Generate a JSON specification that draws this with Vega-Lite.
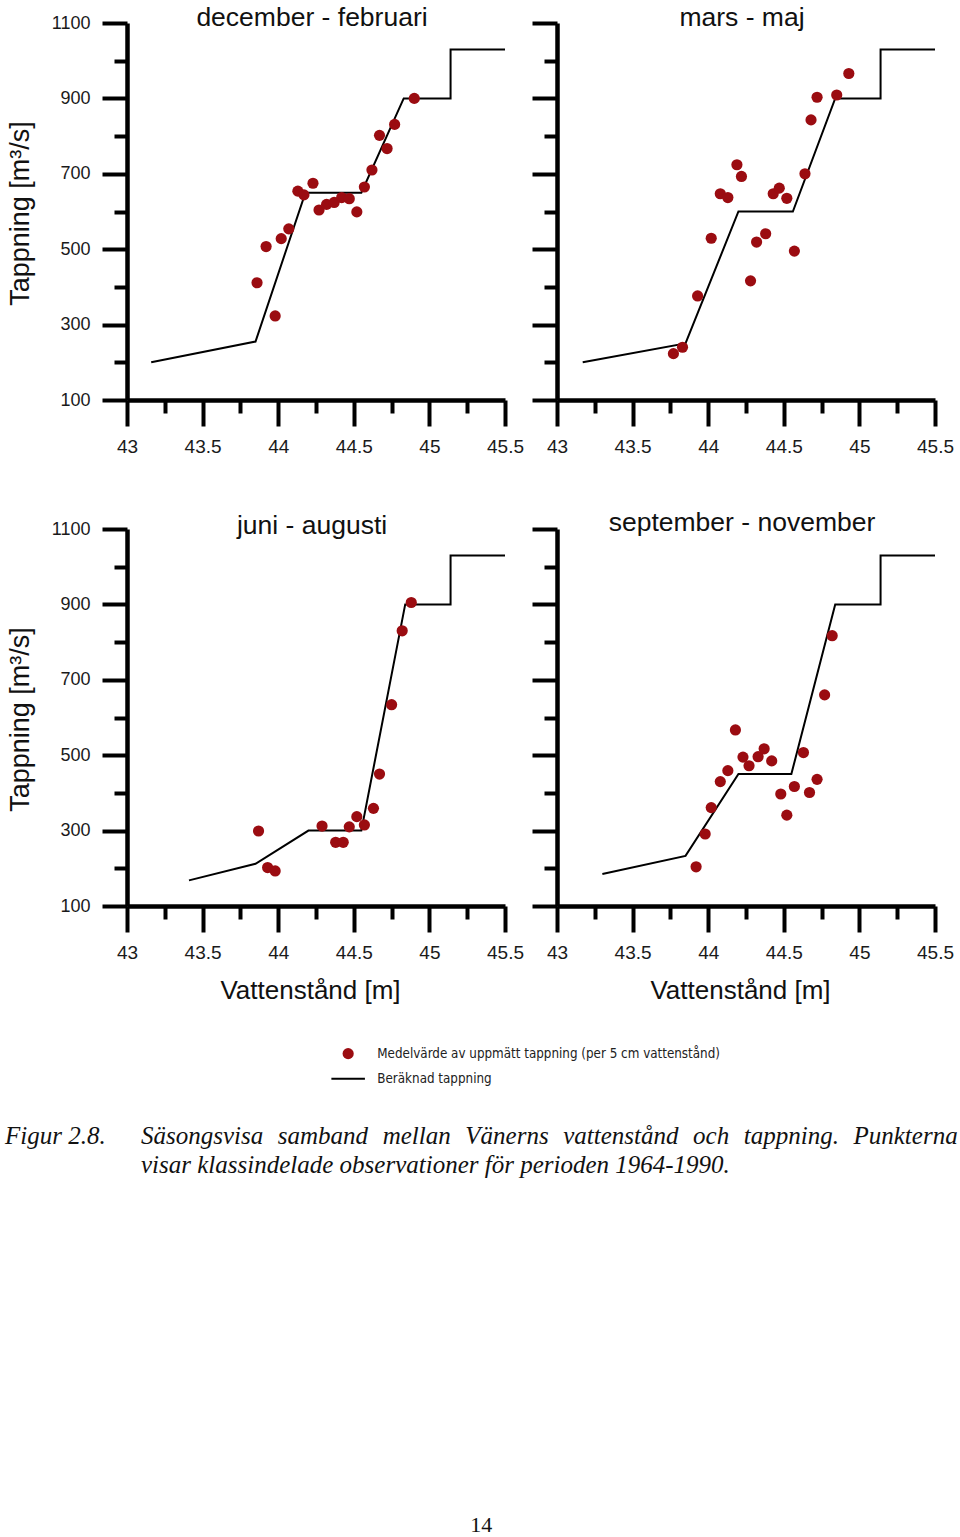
{
  "$schema": "https://vega.github.io/schema/vega-lite/v6.json",
  "padding": {"left": 5, "top": 4, "right": 0, "bottom": 0},
  "background": "white",
  "title": {"text": "14", "orient": "bottom", "anchor": "middle", "frame": "bounds", "dx": 0, "offset": 279, "baseline": "alphabetic", "font": "Liberation Serif", "fontSize": 22, "fontWeight": "normal", "color": "#111111"},
  "datasets": {
    "matt": [
      {"period": "dec-feb", "vattenstand": 43.86, "tappning": 411},
      {"period": "dec-feb", "vattenstand": 43.92, "tappning": 507},
      {"period": "dec-feb", "vattenstand": 43.98, "tappning": 323},
      {"period": "dec-feb", "vattenstand": 44.02, "tappning": 528},
      {"period": "dec-feb", "vattenstand": 44.07, "tappning": 554},
      {"period": "dec-feb", "vattenstand": 44.13, "tappning": 654},
      {"period": "dec-feb", "vattenstand": 44.17, "tappning": 644},
      {"period": "dec-feb", "vattenstand": 44.23, "tappning": 675},
      {"period": "dec-feb", "vattenstand": 44.27, "tappning": 604},
      {"period": "dec-feb", "vattenstand": 44.32, "tappning": 619},
      {"period": "dec-feb", "vattenstand": 44.37, "tappning": 624},
      {"period": "dec-feb", "vattenstand": 44.42, "tappning": 637},
      {"period": "dec-feb", "vattenstand": 44.47, "tappning": 634},
      {"period": "dec-feb", "vattenstand": 44.52, "tappning": 599},
      {"period": "dec-feb", "vattenstand": 44.57, "tappning": 665},
      {"period": "dec-feb", "vattenstand": 44.62, "tappning": 710},
      {"period": "dec-feb", "vattenstand": 44.67, "tappning": 802},
      {"period": "dec-feb", "vattenstand": 44.72, "tappning": 767},
      {"period": "dec-feb", "vattenstand": 44.77, "tappning": 831},
      {"period": "dec-feb", "vattenstand": 44.90, "tappning": 900},
      {"period": "mar-maj", "vattenstand": 43.77, "tappning": 223},
      {"period": "mar-maj", "vattenstand": 43.83, "tappning": 240},
      {"period": "mar-maj", "vattenstand": 43.93, "tappning": 376},
      {"period": "mar-maj", "vattenstand": 44.02, "tappning": 529},
      {"period": "mar-maj", "vattenstand": 44.08, "tappning": 647},
      {"period": "mar-maj", "vattenstand": 44.13, "tappning": 637},
      {"period": "mar-maj", "vattenstand": 44.19, "tappning": 724},
      {"period": "mar-maj", "vattenstand": 44.22, "tappning": 693},
      {"period": "mar-maj", "vattenstand": 44.28, "tappning": 416},
      {"period": "mar-maj", "vattenstand": 44.32, "tappning": 519},
      {"period": "mar-maj", "vattenstand": 44.38, "tappning": 541},
      {"period": "mar-maj", "vattenstand": 44.43, "tappning": 647},
      {"period": "mar-maj", "vattenstand": 44.47, "tappning": 662},
      {"period": "mar-maj", "vattenstand": 44.52, "tappning": 635},
      {"period": "mar-maj", "vattenstand": 44.57, "tappning": 495},
      {"period": "mar-maj", "vattenstand": 44.64, "tappning": 700},
      {"period": "mar-maj", "vattenstand": 44.68, "tappning": 843},
      {"period": "mar-maj", "vattenstand": 44.72, "tappning": 903},
      {"period": "mar-maj", "vattenstand": 44.85, "tappning": 909},
      {"period": "mar-maj", "vattenstand": 44.93, "tappning": 966},
      {"period": "jun-aug", "vattenstand": 43.87, "tappning": 299},
      {"period": "jun-aug", "vattenstand": 43.93, "tappning": 202},
      {"period": "jun-aug", "vattenstand": 43.98, "tappning": 193},
      {"period": "jun-aug", "vattenstand": 44.29, "tappning": 312},
      {"period": "jun-aug", "vattenstand": 44.38, "tappning": 269},
      {"period": "jun-aug", "vattenstand": 44.43, "tappning": 269},
      {"period": "jun-aug", "vattenstand": 44.47, "tappning": 310},
      {"period": "jun-aug", "vattenstand": 44.52, "tappning": 337},
      {"period": "jun-aug", "vattenstand": 44.57, "tappning": 315},
      {"period": "jun-aug", "vattenstand": 44.63, "tappning": 359},
      {"period": "jun-aug", "vattenstand": 44.67, "tappning": 450},
      {"period": "jun-aug", "vattenstand": 44.75, "tappning": 634},
      {"period": "jun-aug", "vattenstand": 44.82, "tappning": 830},
      {"period": "jun-aug", "vattenstand": 44.88, "tappning": 905},
      {"period": "sep-nov", "vattenstand": 43.92, "tappning": 204},
      {"period": "sep-nov", "vattenstand": 43.98, "tappning": 291},
      {"period": "sep-nov", "vattenstand": 44.02, "tappning": 361},
      {"period": "sep-nov", "vattenstand": 44.08, "tappning": 430},
      {"period": "sep-nov", "vattenstand": 44.13, "tappning": 459},
      {"period": "sep-nov", "vattenstand": 44.18, "tappning": 567},
      {"period": "sep-nov", "vattenstand": 44.23, "tappning": 495},
      {"period": "sep-nov", "vattenstand": 44.27, "tappning": 472},
      {"period": "sep-nov", "vattenstand": 44.33, "tappning": 496},
      {"period": "sep-nov", "vattenstand": 44.37, "tappning": 517},
      {"period": "sep-nov", "vattenstand": 44.42, "tappning": 485},
      {"period": "sep-nov", "vattenstand": 44.48, "tappning": 397},
      {"period": "sep-nov", "vattenstand": 44.52, "tappning": 341},
      {"period": "sep-nov", "vattenstand": 44.57, "tappning": 417},
      {"period": "sep-nov", "vattenstand": 44.63, "tappning": 507},
      {"period": "sep-nov", "vattenstand": 44.67, "tappning": 401},
      {"period": "sep-nov", "vattenstand": 44.72, "tappning": 436},
      {"period": "sep-nov", "vattenstand": 44.77, "tappning": 660},
      {"period": "sep-nov", "vattenstand": 44.82, "tappning": 817}
    ],
    "beraknad": [
      {"period": "dec-feb", "nr": 1, "vattenstand": 43.16, "tappning": 200},
      {"period": "dec-feb", "nr": 2, "vattenstand": 43.85, "tappning": 255},
      {"period": "dec-feb", "nr": 3, "vattenstand": 44.18, "tappning": 650},
      {"period": "dec-feb", "nr": 4, "vattenstand": 44.55, "tappning": 650},
      {"period": "dec-feb", "nr": 5, "vattenstand": 44.83, "tappning": 900},
      {"period": "dec-feb", "nr": 6, "vattenstand": 45.14, "tappning": 900},
      {"period": "dec-feb", "nr": 7, "vattenstand": 45.14, "tappning": 1030},
      {"period": "dec-feb", "nr": 8, "vattenstand": 45.5, "tappning": 1030},
      {"period": "mar-maj", "nr": 1, "vattenstand": 43.17, "tappning": 200},
      {"period": "mar-maj", "nr": 2, "vattenstand": 43.85, "tappning": 250},
      {"period": "mar-maj", "nr": 3, "vattenstand": 44.2, "tappning": 600},
      {"period": "mar-maj", "nr": 4, "vattenstand": 44.56, "tappning": 600},
      {"period": "mar-maj", "nr": 5, "vattenstand": 44.84, "tappning": 900},
      {"period": "mar-maj", "nr": 6, "vattenstand": 45.14, "tappning": 900},
      {"period": "mar-maj", "nr": 7, "vattenstand": 45.14, "tappning": 1030},
      {"period": "mar-maj", "nr": 8, "vattenstand": 45.5, "tappning": 1030},
      {"period": "jun-aug", "nr": 1, "vattenstand": 43.41, "tappning": 168},
      {"period": "jun-aug", "nr": 2, "vattenstand": 43.85, "tappning": 212},
      {"period": "jun-aug", "nr": 3, "vattenstand": 44.2, "tappning": 300},
      {"period": "jun-aug", "nr": 4, "vattenstand": 44.55, "tappning": 300},
      {"period": "jun-aug", "nr": 5, "vattenstand": 44.84, "tappning": 900},
      {"period": "jun-aug", "nr": 6, "vattenstand": 45.14, "tappning": 900},
      {"period": "jun-aug", "nr": 7, "vattenstand": 45.14, "tappning": 1030},
      {"period": "jun-aug", "nr": 8, "vattenstand": 45.5, "tappning": 1030},
      {"period": "sep-nov", "nr": 1, "vattenstand": 43.3, "tappning": 185},
      {"period": "sep-nov", "nr": 2, "vattenstand": 43.85, "tappning": 233},
      {"period": "sep-nov", "nr": 3, "vattenstand": 44.2, "tappning": 450},
      {"period": "sep-nov", "nr": 4, "vattenstand": 44.55, "tappning": 450},
      {"period": "sep-nov", "nr": 5, "vattenstand": 44.84, "tappning": 900},
      {"period": "sep-nov", "nr": 6, "vattenstand": 45.14, "tappning": 900},
      {"period": "sep-nov", "nr": 7, "vattenstand": 45.14, "tappning": 1030},
      {"period": "sep-nov", "nr": 8, "vattenstand": 45.5, "tappning": 1030}
    ]
  },
  "columns": 2,
  "spacing": {"row": 129, "column": 52},
  "bounds": "flush",
  "align": "none",
  "concat": [
    {
      "width": 378, "height": 377,
      "title": {"text": "december - februari", "offset": -17},
      "layer": [
        {
          "data": {"name": "beraknad"},
          "transform": [{"filter": "datum.period === 'dec-feb'"}],
          "mark": {"type": "line", "color": "#000000", "strokeWidth": 2},
          "encoding": {
            "x": {"field": "vattenstand", "type": "quantitative", "scale": {"domain": [43, 45.5], "nice": false, "zero": false},
              "axis": {"orient": "bottom", "values": [43, 43.5, 44, 44.5, 45, 45.5], "tickSize": 26, "labelPadding": 11, "format": "~g", "title": null}},
            "y": {"field": "tappning", "type": "quantitative", "scale": {"domain": [100, 1100], "nice": false, "zero": false},
              "axis": {"orient": "left", "values": [100, 300, 500, 700, 900, 1100], "tickSize": 25, "labelPadding": 12, "labelFontSize": 18, "format": "d", "title": "Tappning [m³/s]", "titleX": -99, "titleY": 190, "titleAngle": -90, "titleBaseline": "alphabetic", "titleAlign": "center", "titleFontSize": 27}},
            "order": {"field": "nr", "type": "quantitative"}
          }
        },
        {
          "data": {"name": "matt"},
          "transform": [{"filter": "datum.period === 'dec-feb'"}],
          "mark": {"type": "circle", "size": 125, "opacity": 1},
          "encoding": {
            "x": {"field": "vattenstand", "type": "quantitative", "axis": {"orient": "bottom", "values": [43.25, 43.75, 44.25, 44.75, 45.25], "tickSize": 13, "labels": false, "domain": false, "title": null}},
            "y": {"field": "tappning", "type": "quantitative", "axis": {"orient": "left", "values": [200, 400, 600, 800, 1000], "tickSize": 13, "labels": false, "domain": false, "title": null}},
            "fill": {"datum": "Medelvärde av uppmätt tappning (per 5 cm vattenstånd)", "type": "nominal",
              "scale": {"domain": ["Medelvärde av uppmätt tappning (per 5 cm vattenstånd)", "Beräknad tappning"], "range": ["#9b0c11", "#000000"]},
              "legend": {"title": null, "orient": "none", "legendX": 214.5, "legendY": 1024, "direction": "vertical", "padding": 0, "labelFont": "Liberation Sans Narrow, DejaVu Sans Condensed, Liberation Sans", "labelFontSize": 13.3, "labelColor": "#222222", "labelLimit": 600, "symbolSize": 125, "symbolStrokeWidth": 0, "symbolOpacity": 1, "labelOffset": 22.5, "rowPadding": 11,
                "encode": {"symbols": {"update": {"shape": {"signal": "datum.value === 'Beräknad tappning' ? 'M-3,-0.18H3V0.18H-3Z' : 'circle'"}}}}}}
          }
        }
      ],
      "resolve": {"axis": {"x": "independent", "y": "independent"}}
    },
    {
      "width": 378, "height": 377,
      "title": {"text": "mars - maj", "offset": -10},
      "layer": [
        {
          "data": {"name": "beraknad"},
          "transform": [{"filter": "datum.period === 'mar-maj'"}],
          "mark": {"type": "line", "color": "#000000", "strokeWidth": 2},
          "encoding": {
            "x": {"field": "vattenstand", "type": "quantitative", "scale": {"domain": [43, 45.5], "nice": false, "zero": false},
              "axis": {"orient": "bottom", "values": [43, 43.5, 44, 44.5, 45, 45.5], "tickSize": 26, "labelPadding": 11, "format": "~g", "title": null}},
            "y": {"field": "tappning", "type": "quantitative", "scale": {"domain": [100, 1100], "nice": false, "zero": false},
              "axis": {"orient": "left", "values": [100, 300, 500, 700, 900, 1100], "tickSize": 25, "labels": false, "title": null}},
            "order": {"field": "nr", "type": "quantitative"}
          }
        },
        {
          "data": {"name": "matt"},
          "transform": [{"filter": "datum.period === 'mar-maj'"}],
          "mark": {"type": "circle", "size": 125, "opacity": 1},
          "encoding": {
            "x": {"field": "vattenstand", "type": "quantitative", "axis": {"orient": "bottom", "values": [43.25, 43.75, 44.25, 44.75, 45.25], "tickSize": 13, "labels": false, "domain": false, "title": null}},
            "y": {"field": "tappning", "type": "quantitative", "axis": {"orient": "left", "values": [200, 400, 600, 800, 1000], "tickSize": 13, "labels": false, "domain": false, "title": null}},
            "fill": {"datum": "Medelvärde av uppmätt tappning (per 5 cm vattenstånd)", "type": "nominal",
              "scale": {"domain": ["Medelvärde av uppmätt tappning (per 5 cm vattenstånd)", "Beräknad tappning"], "range": ["#9b0c11", "#000000"]},
              "legend": {"title": null, "orient": "none", "legendX": 214.5, "legendY": 1024, "direction": "vertical", "padding": 0, "labelFont": "Liberation Sans Narrow, DejaVu Sans Condensed, Liberation Sans", "labelFontSize": 13.3, "labelColor": "#222222", "labelLimit": 600, "symbolSize": 125, "symbolStrokeWidth": 0, "symbolOpacity": 1, "labelOffset": 22.5, "rowPadding": 11,
                "encode": {"symbols": {"update": {"shape": {"signal": "datum.value === 'Beräknad tappning' ? 'M-3,-0.18H3V0.18H-3Z' : 'circle'"}}}}}}
          }
        }
      ],
      "resolve": {"axis": {"x": "independent", "y": "independent"}}
    },
    {
      "width": 378, "height": 377,
      "title": {"text": "juni - augusti", "offset": -19},
      "layer": [
        {
          "data": {"name": "beraknad"},
          "transform": [{"filter": "datum.period === 'jun-aug'"}],
          "mark": {"type": "line", "color": "#000000", "strokeWidth": 2},
          "encoding": {
            "x": {"field": "vattenstand", "type": "quantitative", "scale": {"domain": [43, 45.5], "nice": false, "zero": false},
              "axis": {"orient": "bottom", "values": [43, 43.5, 44, 44.5, 45, 45.5], "tickSize": 26, "labelPadding": 11, "format": "~g", "title": "Vattenstånd [m]", "titleX": 183, "titleY": 92, "titleBaseline": "alphabetic", "titleAlign": "center"}},
            "y": {"field": "tappning", "type": "quantitative", "scale": {"domain": [100, 1100], "nice": false, "zero": false},
              "axis": {"orient": "left", "values": [100, 300, 500, 700, 900, 1100], "tickSize": 25, "labelPadding": 12, "labelFontSize": 18, "format": "d", "title": "Tappning [m³/s]", "titleX": -99, "titleY": 190, "titleAngle": -90, "titleBaseline": "alphabetic", "titleAlign": "center", "titleFontSize": 27}},
            "order": {"field": "nr", "type": "quantitative"}
          }
        },
        {
          "data": {"name": "matt"},
          "transform": [{"filter": "datum.period === 'jun-aug'"}],
          "mark": {"type": "circle", "size": 125, "opacity": 1},
          "encoding": {
            "x": {"field": "vattenstand", "type": "quantitative", "axis": {"orient": "bottom", "values": [43.25, 43.75, 44.25, 44.75, 45.25], "tickSize": 13, "labels": false, "domain": false, "title": null}},
            "y": {"field": "tappning", "type": "quantitative", "axis": {"orient": "left", "values": [200, 400, 600, 800, 1000], "tickSize": 13, "labels": false, "domain": false, "title": null}},
            "fill": {"datum": "Medelvärde av uppmätt tappning (per 5 cm vattenstånd)", "type": "nominal",
              "scale": {"domain": ["Medelvärde av uppmätt tappning (per 5 cm vattenstånd)", "Beräknad tappning"], "range": ["#9b0c11", "#000000"]},
              "legend": {"title": null, "orient": "none", "legendX": 214.5, "legendY": 1024, "direction": "vertical", "padding": 0, "labelFont": "Liberation Sans Narrow, DejaVu Sans Condensed, Liberation Sans", "labelFontSize": 13.3, "labelColor": "#222222", "labelLimit": 600, "symbolSize": 125, "symbolStrokeWidth": 0, "symbolOpacity": 1, "labelOffset": 22.5, "rowPadding": 11,
                "encode": {"symbols": {"update": {"shape": {"signal": "datum.value === 'Beräknad tappning' ? 'M-3,-0.18H3V0.18H-3Z' : 'circle'"}}}}}}
          }
        }
      ],
      "resolve": {"axis": {"x": "independent", "y": "independent"}}
    },
    {
      "width": 378, "height": 377,
      "title": {"text": "september - november", "offset": -9},
      "layer": [
        {
          "data": {"name": "beraknad"},
          "transform": [{"filter": "datum.period === 'sep-nov'"}],
          "mark": {"type": "line", "color": "#000000", "strokeWidth": 2},
          "encoding": {
            "x": {"field": "vattenstand", "type": "quantitative", "scale": {"domain": [43, 45.5], "nice": false, "zero": false},
              "axis": {"orient": "bottom", "values": [43, 43.5, 44, 44.5, 45, 45.5], "tickSize": 26, "labelPadding": 11, "format": "~g", "title": "Vattenstånd [m]", "titleX": 183, "titleY": 92, "titleBaseline": "alphabetic", "titleAlign": "center"}},
            "y": {"field": "tappning", "type": "quantitative", "scale": {"domain": [100, 1100], "nice": false, "zero": false},
              "axis": {"orient": "left", "values": [100, 300, 500, 700, 900, 1100], "tickSize": 25, "labels": false, "title": null}},
            "order": {"field": "nr", "type": "quantitative"}
          }
        },
        {
          "data": {"name": "matt"},
          "transform": [{"filter": "datum.period === 'sep-nov'"}],
          "mark": {"type": "circle", "size": 125, "opacity": 1},
          "encoding": {
            "x": {"field": "vattenstand", "type": "quantitative", "axis": {"orient": "bottom", "values": [43.25, 43.75, 44.25, 44.75, 45.25], "tickSize": 13, "labels": false, "domain": false, "title": null}},
            "y": {"field": "tappning", "type": "quantitative", "axis": {"orient": "left", "values": [200, 400, 600, 800, 1000], "tickSize": 13, "labels": false, "domain": false, "title": null}},
            "fill": {"datum": "Medelvärde av uppmätt tappning (per 5 cm vattenstånd)", "type": "nominal",
              "scale": {"domain": ["Medelvärde av uppmätt tappning (per 5 cm vattenstånd)", "Beräknad tappning"], "range": ["#9b0c11", "#000000"]},
              "legend": {"title": null, "orient": "none", "legendX": 214.5, "legendY": 1024, "direction": "vertical", "padding": 0, "labelFont": "Liberation Sans Narrow, DejaVu Sans Condensed, Liberation Sans", "labelFontSize": 13.3, "labelColor": "#222222", "labelLimit": 600, "symbolSize": 125, "symbolStrokeWidth": 0, "symbolOpacity": 1, "labelOffset": 22.5, "rowPadding": 11,
                "encode": {"symbols": {"update": {"shape": {"signal": "datum.value === 'Beräknad tappning' ? 'M-3,-0.18H3V0.18H-3Z' : 'circle'"}}}}}}
          }
        }
      ],
      "resolve": {"axis": {"x": "independent", "y": "independent"}}
    },
    {
      "width": 378, "height": 218,
      "data": {"values": [
        {"del": "nummer", "text": "Figur 2.8."},
        {"del": "text", "text": ["Säsongsvisa\u2002\u200asamband\u2002\u200amellan\u2002\u200aVänerns\u2002\u200avattenstånd\u2002\u200aoch\u2002\u200atappning.\u2002\u200aPunkterna", "visar klassindelade observationer för perioden 1964-1990."]}
      ]},
      "mark": {"type": "text", "align": "left", "baseline": "alphabetic", "font": "Liberation Serif", "fontStyle": "italic", "fontSize": 25, "lineHeight": 29, "color": "#111111"},
      "encoding": {
        "x": {"field": "del", "type": "nominal", "scale": {"type": "point", "domain": ["nummer", "text"], "range": [-122, 14], "padding": 0}, "axis": null},
        "text": {"field": "text", "type": "nominal"}
      }
    }
  ],
  "config": {
    "view": {"stroke": null},
    "font": "Liberation Sans",
    "axis": {"grid": false, "domainColor": "#000000", "domainWidth": 4.5, "tickColor": "#000000", "tickWidth": 4, "labelFont": "Liberation Sans", "labelFontSize": 19, "labelColor": "#1a1a1a", "labelFlush": false, "labelOverlap": false, "titleFont": "Liberation Sans", "titleFontSize": 26, "titleFontWeight": "normal", "titleColor": "#111111"},
    "title": {"font": "Liberation Sans", "fontSize": 26.5, "fontWeight": "normal", "color": "#111111", "frame": "group", "anchor": "middle", "baseline": "alphabetic", "dx": -4}
  }
}
